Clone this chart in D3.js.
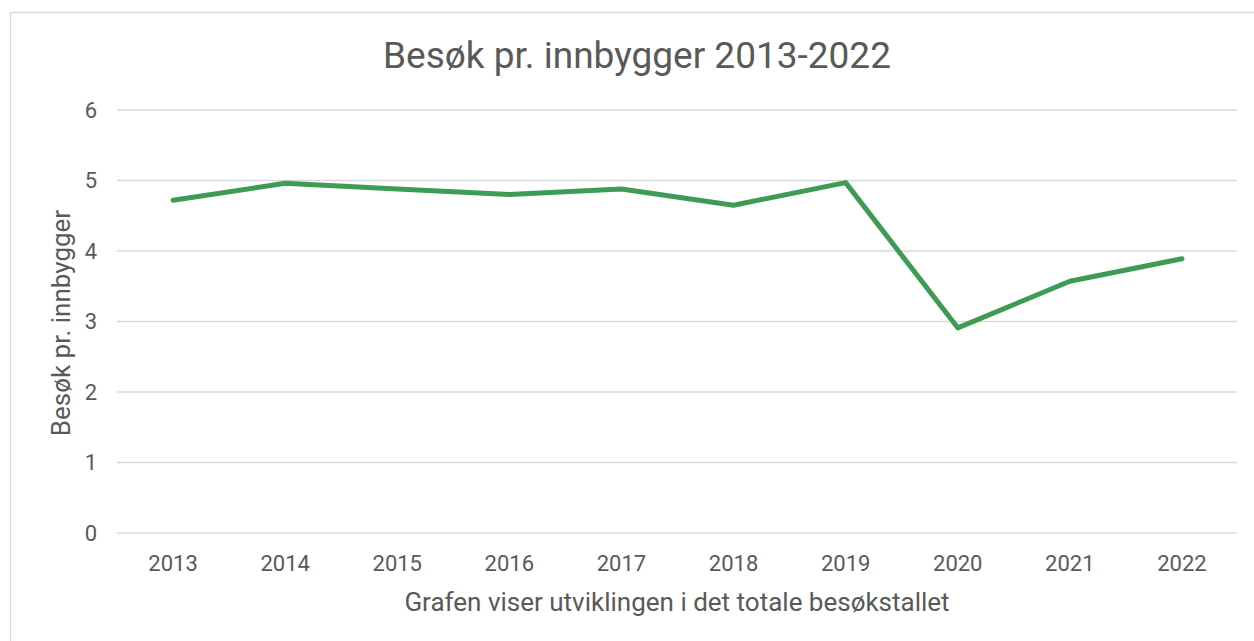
<!DOCTYPE html>
<html>
<head>
<meta charset="utf-8">
<style>
body { margin: 0; background: #fff; }
svg text { font-family: Roboto, "Noto Sans", sans-serif; fill: #595959; }
.grid line { stroke: #d9d9d9; stroke-width: 1.5; }
</style>
</head>
<body>
<svg width="1254" height="641"></svg>
<script src="https://d3js.org/d3.v7.min.js"></script>
<script>
// verdier lest av grafen
var years = ["2013", "2014", "2015", "2016", "2017", "2018", "2019", "2020", "2021", "2022"];
var visits = [4.72, 4.96, 4.88, 4.80, 4.88, 4.65, 4.97, 2.91, 3.57, 3.89];
var yTicks = [0, 1, 2, 3, 4, 5, 6];

var svg = d3.select("svg"),
    width = +svg.attr("width"),
    height = +svg.attr("height");

// ramme rundt diagrammet
svg.append("rect")
    .attr("x", 10.5).attr("y", 12.5)
    .attr("width", 1260).attr("height", 640)
    .attr("fill", "none")
    .attr("stroke", "#d9d9d9")
    .attr("stroke-width", 1.5);

var x = d3.scaleBand()
    .domain(years)
    .range([117, 1238]);

var y = d3.scaleLinear()
    .domain([0, 6])
    .range([533, 110]);

// rutenett
svg.append("g").attr("class", "grid")
  .selectAll("line")
  .data(yTicks)
  .enter().append("line")
    .attr("x1", 117).attr("x2", 1237)
    .attr("y1", function(d) { return y(d); })
    .attr("y2", function(d) { return y(d); });

// y-akse
svg.append("g")
  .selectAll("text")
  .data(yTicks)
  .enter().append("text")
    .attr("x", 97)
    .attr("y", function(d) { return y(d); })
    .attr("dy", ".35em")
    .attr("text-anchor", "end")
    .style("font-size", "22px")
    .text(function(d) { return d; });

// x-akse
svg.append("g")
  .selectAll("text")
  .data(years)
  .enter().append("text")
    .attr("x", function(d) { return x(d) + x.bandwidth() / 2; })
    .attr("y", 571)
    .attr("text-anchor", "middle")
    .style("font-size", "22px")
    .text(function(d) { return d; });

var line = d3.line()
    .x(function(d, i) { return x(years[i]) + x.bandwidth() / 2; })
    .y(function(d) { return y(d); });

svg.append("path")
    .datum(visits)
    .attr("d", line)
    .attr("fill", "none")
    .attr("stroke", "#3d9b54")
    .attr("stroke-width", 5)
    .attr("stroke-linejoin", "round")
    .attr("stroke-linecap", "round");

// titler
svg.append("text")
    .attr("x", 637).attr("y", 68)
    .attr("text-anchor", "middle")
    .style("font-size", "37px")
    .text("Besøk pr. innbygger 2013-2022");

svg.append("text")
    .attr("x", 677).attr("y", 611)
    .attr("text-anchor", "middle")
    .style("font-size", "26px")
    .text("Grafen viser utviklingen i det totale besøkstallet");

svg.append("text")
    .attr("transform", "translate(70,323) rotate(-90)")
    .attr("text-anchor", "middle")
    .style("font-size", "26px")
    .text("Besøk pr. innbygger");
</script>
</body>
</html>
